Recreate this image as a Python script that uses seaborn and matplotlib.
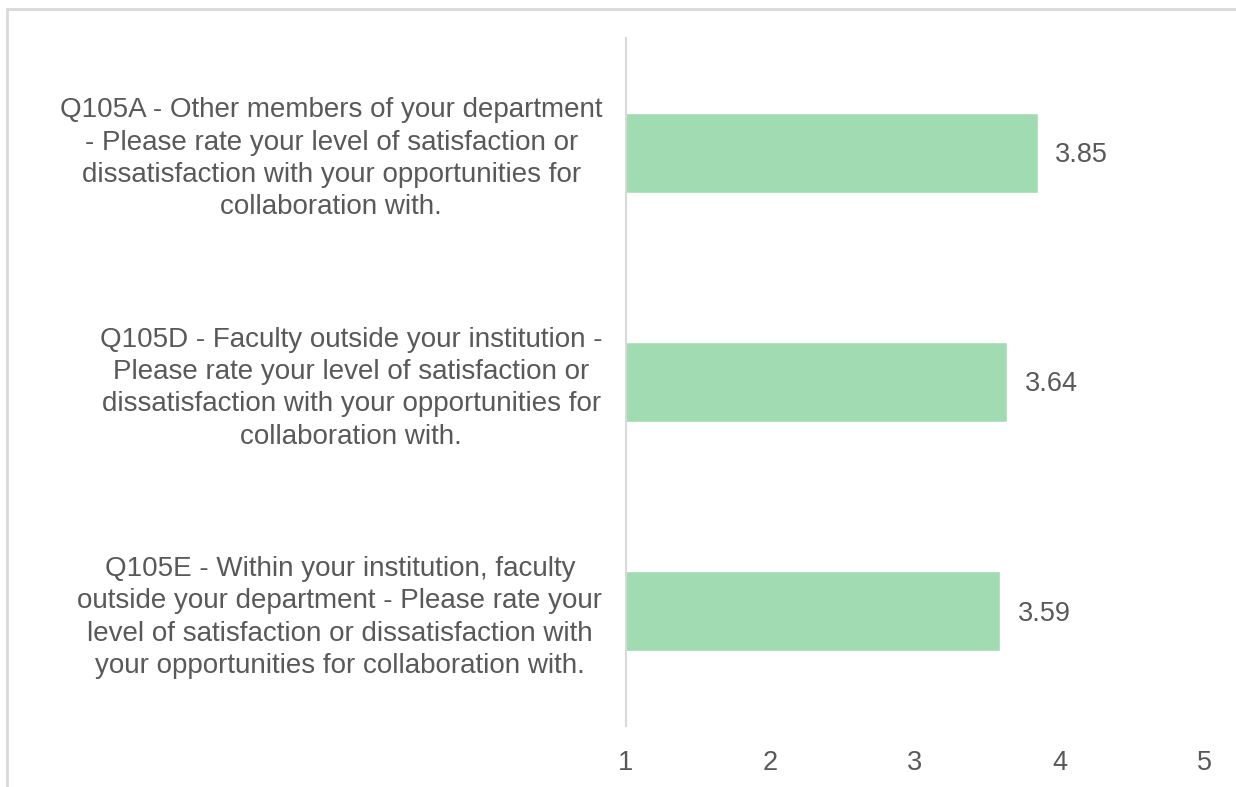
import matplotlib
matplotlib.use("Agg")
import matplotlib.pyplot as plt
import seaborn as sns
import pandas as pd
from matplotlib.patches import Rectangle

# data
questions = [
    "Q105A - Other members of your department\n- Please rate your level of satisfaction or\ndissatisfaction with your opportunities for\ncollaboration with.",
    "Q105D - Faculty outside your institution -\nPlease rate your level of satisfaction or\ndissatisfaction with your opportunities for\ncollaboration with.",
    "Q105E - Within your institution, faculty\noutside your department - Please rate your\nlevel of satisfaction or dissatisfaction with\nyour opportunities for collaboration with.",
]
scores = [3.85, 3.64, 3.59]
x_ticks = [1, 2, 3, 4, 5]

df = pd.DataFrame({"question": questions, "score": scores})

sns.set_style("white")
plt.rcParams["font.family"] = ["Liberation Sans", "DejaVu Sans"]
text_color = "#595959"

fig = plt.figure(figsize=(12.36, 7.87), dpi=100)
ax = fig.add_axes([626 / 1236, 1 - 726 / 787, (1204 - 626) / 1236, (726 - 38) / 787])

sns.barplot(data=df, x="score", y="question", orient="h", color="#A1DBB2",
            saturation=1, width=0.35, ax=ax)

ax.set_xlim(1, 5)
ax.set_ylim(2.5, -0.5)
ax.set_xticks(x_ticks)
ax.set_xlabel("")
ax.set_ylabel("")

for s in ["top", "right", "bottom"]:
    ax.spines[s].set_visible(False)
ax.spines["left"].set_color("#D9D9D9")
ax.spines["left"].set_linewidth(1.5)

ax.tick_params(axis="x", length=0, pad=17, labelsize=19.5, labelcolor=text_color)
ax.tick_params(axis="y", length=0, pad=17, labelsize=20, labelcolor=text_color)
for t in ax.get_yticklabels():
    t.set_multialignment("center")
    t.set_linespacing(1.32)

for i, v in enumerate(scores):
    ax.text(v + 0.12, i + 0.01, f"{v:.2f}", va="center", ha="left",
            fontsize=19.5, color=text_color)

# outer frame of the chart area
fig.patches.append(Rectangle((7 / 1236, -0.1), 1.2, 1 - 9 / 787 + 0.1,
                             transform=fig.transFigure, fill=False,
                             edgecolor="#D9D9D9", lw=2))

fig.savefig("out.png", dpi=100, facecolor="white")
